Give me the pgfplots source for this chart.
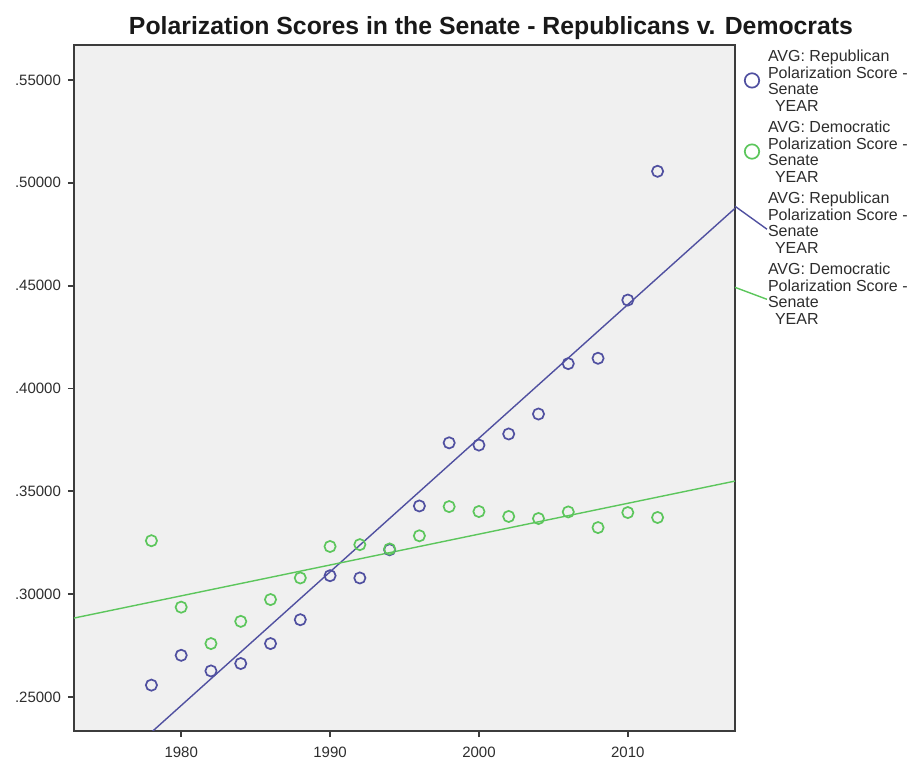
\documentclass[border=0pt]{standalone}
\usepackage{fontspec}
\setmainfont{Liberation Sans}
\usepackage{pgfplots}
\usepackage{pgfplotstable}
\pgfplotsset{compat=1.18}

\definecolor{rep}{RGB}{80,80,160}
\definecolor{dem}{RGB}{92,198,92}
\definecolor{panel}{RGB}{240,240,240}
\definecolor{frame}{RGB}{60,60,60}
\definecolor{txt}{RGB}{45,45,45}

% legend pictures: circle, and the two slanted connectors
\pgfplotsset{
  scatterleg/.style={legend image code/.code={
    \path[draw=none, fill=none] (0pt,-2pt) rectangle (16pt,2pt);
    \draw[##1, mark size=3.6pt] plot coordinates {(8.5pt,0.8pt)};}},
  repfitleg/.style={legend image code/.code={
    \path[draw=none, fill=none] (0pt,-2pt) rectangle (16pt,2pt);
    \draw[##1, overlay] (0pt,9pt) -- (16pt,-2.5pt);}},
  demfitleg/.style={legend image code/.code={
    \path[draw=none, fill=none] (0pt,-2pt) rectangle (16pt,2pt);
    \draw[##1, overlay] (0pt,4pt) -- (16pt,-2pt);}},
}

% average polarization score per Congress year
\pgfplotstableread{
year rep    dem
1978 0.2558 0.3260
1980 0.2703 0.2937
1982 0.2627 0.2760
1984 0.2663 0.2868
1986 0.2760 0.2974
1988 0.2876 0.3079
1990 0.3090 0.3232
1992 0.3079 0.3241
1994 0.3216 0.3220
1996 0.3429 0.3284
1998 0.3736 0.3426
2000 0.3725 0.3402
2002 0.3779 0.3378
2004 0.3876 0.3368
2006 0.4121 0.3400
2008 0.4147 0.3324
2010 0.4430 0.3397
2012 0.5056 0.3373
}\polar

% fit lines, read at the two edges of the plot
\pgfplotstableread{
year rep    dem
1972.8 0.1991 0.2884
2017.2 0.4876 0.3550
}\fits

\begin{document}
\begin{tikzpicture}
\begin{axis}[
  scale only axis,
  width=330.5pt, height=343pt,
  xmin=1972.8, xmax=2017.2,
  ymin=0.2335, ymax=0.567,
  axis background/.style={fill=panel},
  axis line style={frame, line width=1pt},
  xtick={1980,1990,2000,2010},
  xticklabels={1980,1990,2000,2010},
  ytick={0.25,0.30,0.35,0.40,0.45,0.50,0.55},
  yticklabels={.25000,.30000,.35000,.40000,.45000,.50000,.55000},
  tick align=outside, tick pos=left,
  major tick length=3pt,
  tick style={frame, line width=0.9pt},
  ticklabel style={font=\fontsize{7.5}{9}\selectfont, text=txt},
  xticklabel style={yshift=-1.5pt},
  legend style={at={(1,1)}, anchor=north west, yshift=-2.5pt,
    draw=none, fill=none, inner sep=0pt, outer sep=0pt,
    row sep=3.5pt, column sep=0.5pt,
    nodes={inner sep=0pt, align=left, text=txt,
      font=\fontsize{8}{8.25}\selectfont}},
  legend cell align=left,
]
\addplot[only marks, mark=o, mark size=2.8pt, rep, line width=0.85pt, scatterleg]
  table[x=year, y=rep] {\polar};
\addlegendentry{AVG: Republican\\Polarization Score -\\Senate\\\hspace{3.5pt}YEAR}
\addplot[only marks, mark=o, mark size=2.8pt, dem, line width=0.85pt, scatterleg]
  table[x=year, y=dem] {\polar};
\addlegendentry{AVG: Democratic\\Polarization Score -\\Senate\\\hspace{3.5pt}YEAR}
\addplot[rep, line width=0.7pt, forget plot] table[x=year, y=rep] {\fits};
\addplot[dem, line width=0.7pt, forget plot] table[x=year, y=dem] {\fits};
\addlegendimage{rep, line width=0.7pt, repfitleg}
\addlegendentry{AVG: Republican\\Polarization Score -\\Senate\\\hspace{3.5pt}YEAR}
\addlegendimage{dem, line width=0.7pt, demfitleg}
\addlegendentry{AVG: Democratic\\Polarization Score -\\Senate\\\hspace{3.5pt}YEAR}
\end{axis}
\node[anchor=base, text=black!90,
  font=\fontsize{12.4}{14}\selectfont\bfseries]
  at ([xshift=208.5pt, yshift=5pt]current axis.north west)
  {Polarization Scores in the Senate - Republicans v. Democrats};
\pgfresetboundingbox
\path (current axis.south west) ++(-37pt,-15.5pt) rectangle ++(458.5pt,381pt);
\end{tikzpicture}
\end{document}
